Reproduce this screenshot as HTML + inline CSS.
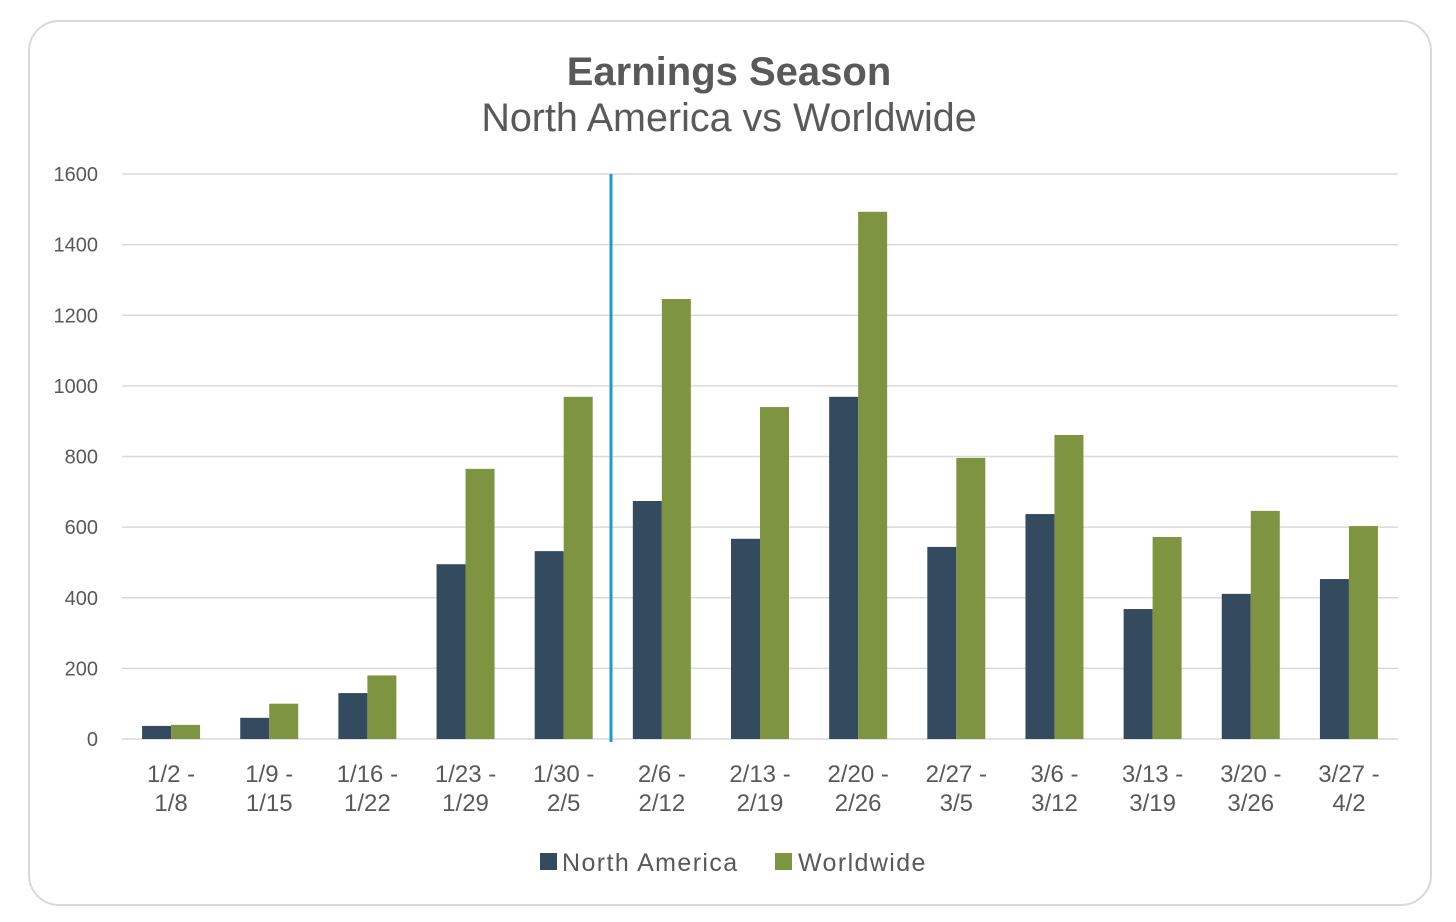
<!DOCTYPE html>
<html><head><meta charset="utf-8"><style>
html,body{margin:0;padding:0;background:#fff;width:1456px;height:922px;overflow:hidden}
svg text{font-family:"Liberation Sans",sans-serif;fill:#595959}
</style></head><body>
<svg id="c" width="1456" height="922">
<rect x="29" y="21" width="1402" height="884" rx="30" fill="#fff" stroke="#d9d9d9" stroke-width="2"/>
<text x="729" y="85" text-anchor="middle" font-size="40" font-weight="bold">Earnings Season</text>
<text x="729" y="131" text-anchor="middle" font-size="39.5">North America vs Worldwide</text>
<g id="grid"></g><g id="bars"></g><g id="xl"></g>
<line x1="611" y1="174" x2="611" y2="742" stroke="#1a9bd7" stroke-width="3"/>
<rect x="540" y="853" width="17" height="17" fill="#344a5f"/>
<text x="562" y="871" font-size="25" letter-spacing="1.4">North America</text>
<rect x="775" y="853" width="17" height="17" fill="#7f9441"/>
<text x="798" y="871" font-size="25" letter-spacing="1.4">Worldwide</text>
</svg>
<script>
const categories=[["1/2 -","1/8"],["1/9 -","1/15"],["1/16 -","1/22"],["1/23 -","1/29"],["1/30 -","2/5"],["2/6 -","2/12"],["2/13 -","2/19"],["2/20 -","2/26"],["2/27 -","3/5"],["3/6 -","3/12"],["3/13 -","3/19"],["3/20 -","3/26"],["3/27 -","4/2"]];
const northAmerica=[37,60,130,495,532,674,567,969,544,637,368,411,453];
const worldwide=[40,100,180,765,969,1246,940,1493,796,861,572,646,603];
const yTicks=[0,200,400,600,800,1000,1200,1400,1600];
const NS="http://www.w3.org/2000/svg";
const L=122,R=1398,T=174,B=739,MAX=1600;
const y=v=>B-(v/MAX)*(B-T);
const bw=(R-L)/categories.length;
const xc=i=>L+bw*(i+0.5);
function mk(tag,attrs,parent){const e=document.createElementNS(NS,tag);for(const k in attrs)e.setAttribute(k,attrs[k]);parent.appendChild(e);return e;}
const grid=document.getElementById('grid'),bars=document.getElementById('bars'),xl=document.getElementById('xl');
yTicks.forEach(t=>{
  const l=mk('line',{x1:L,x2:R,y1:y(t),y2:y(t),stroke:'#d9d9d9','stroke-width':1.5},grid);
  
  
  const tx=mk('text',{x:98,y:y(t)+7,'text-anchor':'end','font-size':20},grid);
  tx.textContent=t;
  
  
});
const w=29;
categories.forEach((c,i)=>{
  const a=mk('rect',{x:xc(i)-w,y:y(northAmerica[i]),width:w,height:B-y(northAmerica[i]),fill:'#344a5f'},bars);
  
  
  const b=mk('rect',{x:xc(i),y:y(worldwide[i]),width:w,height:B-y(worldwide[i]),fill:'#7f9441'},bars);
  
  
  const t=mk('text',{x:xc(i),y:782,'text-anchor':'middle','font-size':24},xl);
  t.textContent=c[0];
  
  
  const t2=mk('text',{x:xc(i),y:811,'text-anchor':'middle','font-size':24},xl);
  t2.textContent=c[1];
  
  
});
</script>
</body></html>
